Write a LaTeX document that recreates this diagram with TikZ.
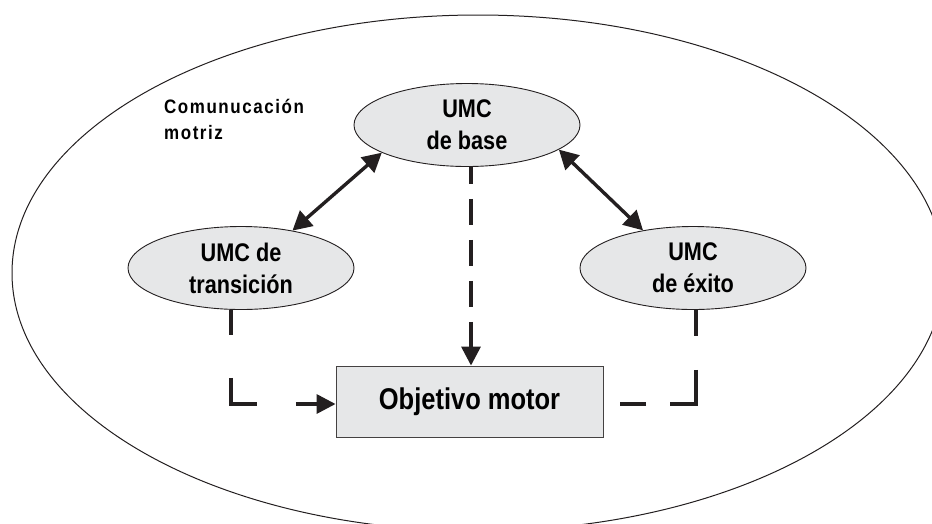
\documentclass[tikz,border=0pt]{standalone}
\usepackage{fontspec}
\setmainfont{Liberation Sans}[FakeStretch=0.85]
\newfontfamily\tagfont{Liberation Sans}[FakeStretch=0.87, LetterSpace=8]
\usetikzlibrary{arrows.meta,shapes.geometric}
\definecolor{boxfill}{HTML}{E6E7E8}
\definecolor{ink}{HTML}{231F20}

\begin{document}
\begin{tikzpicture}[x=1pt,y=-1pt,
  unit/.style={ellipse, draw=ink, line width=0.9pt, fill=boxfill,
    minimum width=226pt, minimum height=83pt, inner sep=0pt, align=center,
    font=\fontsize{25.5}{32}\selectfont\bfseries},
  goal/.style={rectangle, draw=ink!85, line width=0.9pt, fill=boxfill,
    minimum width=267pt, minimum height=71pt, inner sep=0pt,
    font=\fontsize{30}{34}\selectfont\bfseries},
  link/.style={line width=3.4pt, draw=ink,
    {Triangle[length=19pt,width=20pt]}-{Triangle[length=19pt,width=20pt]}},
  flow/.style={line width=3.4pt, draw=ink},
  arrowed/.style={-{Triangle[length=19pt,width=19pt]}}
]
\useasboundingbox (0,0) rectangle (932,523);
\clip (0,0) rectangle (932,523);

% surrounding field: motor communication
\draw[ink, line width=1pt] (478,273) ellipse [x radius=466pt, y radius=258pt];
\node[anchor=north west, align=left, inner sep=0pt,
  font=\tagfont\fontsize{19.5}{26}\selectfont\bfseries] (tag) at (164,99)
  {Comunucación\\motriz};

% communication units and the motor goal
\node[unit] (base)  at (467,125) {UMC\\de base};
\node[unit] (trans) at (241,268) {UMC de\\transición};
\node[unit] (exito) at (693,268) {UMC\\de éxito};
\node[goal] (goal)  at (469.5,401.5) {Objetivo motor};

% two-way links between the units
\draw[link] (trans.36) -- (base.198);
\draw[link] (base.-15) -- (exito.143);

% dashed contributions towards the goal
\draw[flow, arrowed, dash pattern=on 26pt off 15pt, dash phase=9pt]
  ([xshift=4pt]base.south) -- ([xshift=1.5pt]goal.north);
\draw[flow, arrowed, dash pattern=on 25pt off 43pt on 52pt off 39pt on 300pt]
  ([xshift=-10pt]trans.south) |- ([yshift=-2.5pt]goal.west);
\draw[flow, dash pattern=on 26pt off 34pt on 60pt off 24pt on 26pt off 100pt]
  ([xshift=3pt]exito.south) |- ([yshift=-2.5pt]goal.east);
\end{tikzpicture}
\end{document}
